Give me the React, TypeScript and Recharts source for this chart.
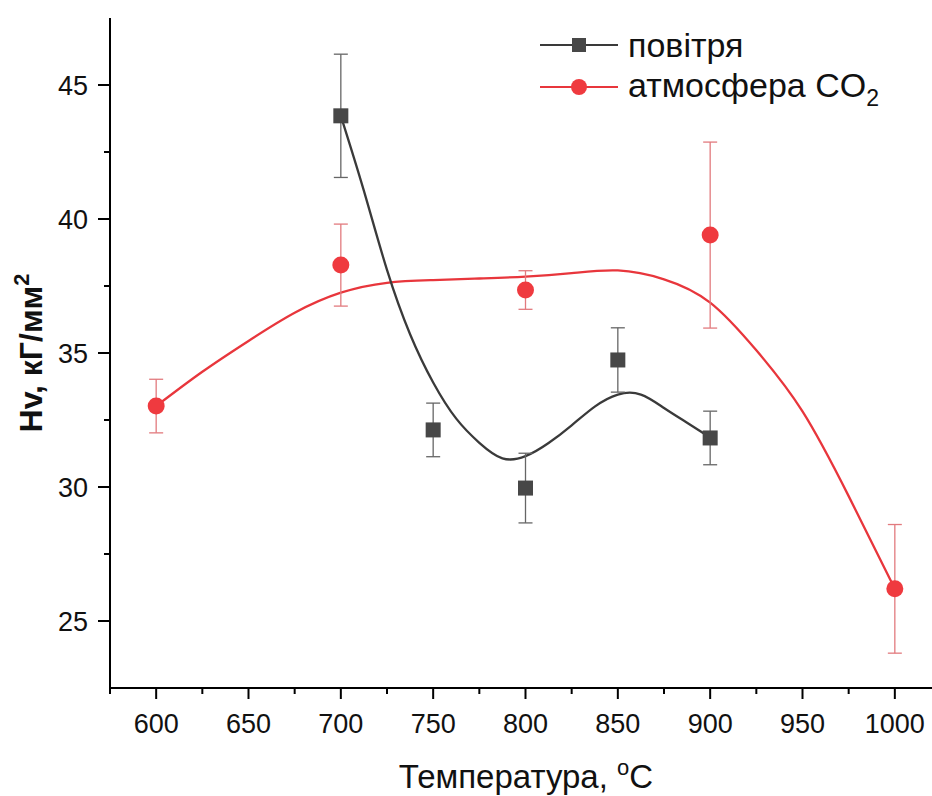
import React from 'react';
import { ComposedChart, Line, Scatter, XAxis, YAxis, ErrorBar, Legend } from 'recharts';

const FONT = '"Liberation Sans", Arial, Helvetica, sans-serif';

// measured points (temperature, Hv, error)
const airTemps = [700, 750, 800, 850, 900];
const airHv = [43.85, 32.13, 29.96, 34.74, 31.83];
const airErr = [2.3, 1.0, 1.3, 1.2, 1.0];

const co2Temps = [600, 700, 800, 900, 1000];
const co2Hv = [33.02, 38.28, 37.35, 39.4, 26.2];
const co2Err = [1.0, 1.53, 0.72, 3.47, 2.4];

// smoothed curves
const airCurveT = [700, 712.5, 725, 737.5, 750, 762.5, 775, 787.5, 800, 812.5, 825, 837.5, 850, 862.5, 875, 887.5, 900];
const airCurveV = [43.85, 41.05, 38.1, 35.7, 33.9, 32.55, 31.65, 31.07, 31.15, 31.64, 32.3, 33.0, 33.45, 33.45, 32.95, 32.4, 31.85];

const co2CurveT = [600, 625, 650, 675, 700, 725, 750, 775, 800, 825, 850, 875, 900, 925, 950, 975, 1000];
const co2CurveV = [33.02, 34.3, 35.45, 36.5, 37.25, 37.62, 37.72, 37.78, 37.85, 37.98, 38.08, 37.75, 36.88, 35.1, 32.82, 29.66, 26.2];

// ticks
const xTicks = [575, 600, 625, 650, 675, 700, 725, 750, 775, 800, 825, 850, 875, 900, 925, 950, 975, 1000, 1025];
const xMajor = [600, 650, 700, 750, 800, 850, 900, 950, 1000];
const yTicks = [25, 27.5, 30, 32.5, 35, 37.5, 40, 42.5, 45];
const yMajor = [25, 30, 35, 40, 45];

const seriesNames = ['повітря', 'атмосфера CO'];

const airPts = airTemps.map((t, i) => ({ x: t, y: airHv[i], err: airErr[i] }));
const co2Pts = co2Temps.map((t, i) => ({ x: t, y: co2Hv[i], err: co2Err[i] }));
const airCurve = airCurveT.map((t, i) => ({ x: t, y: airCurveV[i] }));
const co2Curve = co2CurveT.map((t, i) => ({ x: t, y: co2CurveV[i] }));

const BLACK = '#3a3a3a';
const BLACK_MK = '#474747';
const RED = '#e8363c';
const RED_MK = '#ef3a3f';

const XTick = (props: any) => {
  const { x, y, payload } = props;
  const v = payload.value;
  const major = xMajor.includes(v);
  return (
    <g>
      <line x1={x} x2={x} y1={y} y2={y + (major ? 11 : 6)} stroke="#000" strokeWidth={2} />
      {major && (
        <text x={x} y={y + 45} textAnchor="middle" fontSize={27} fontFamily={FONT} fill="#111">
          {v}
        </text>
      )}
    </g>
  );
};

const YTick = (props: any) => {
  const { x, y, payload } = props;
  const v = payload.value;
  const major = yMajor.includes(v);
  return (
    <g>
      <line x1={x} x2={x - (major ? 12 : 6)} y1={y} y2={y} stroke="#000" strokeWidth={2} />
      {major && (
        <text x={x - 22} y={y + 10} textAnchor="end" fontSize={27} fontFamily={FONT} fill="#111">
          {v}
        </text>
      )}
    </g>
  );
};

const Square = (props: any) => {
  const { cx, cy } = props;
  return <rect x={cx - 7.5} y={cy - 7.5} width={15} height={15} fill={BLACK_MK} />;
};
const Dot = (props: any) => {
  const { cx, cy } = props;
  return <circle cx={cx} cy={cy} r={8.5} fill={RED_MK} />;
};

const LegendBox = () => (
  <div style={{ fontFamily: FONT, fontSize: 34, color: '#111' }}>
    <div style={{ display: 'flex', alignItems: 'center', height: 42 }}>
      <svg width={78} height={42} style={{ marginRight: 10 }}>
        <line x1={0} x2={78} y1={21} y2={21} stroke={BLACK} strokeWidth={2} />
        <rect x={32} y={14} width={14} height={14} fill={BLACK_MK} />
      </svg>
      <span style={{ lineHeight: '42px' }}>{seriesNames[0]}</span>
    </div>
    <div style={{ display: 'flex', alignItems: 'center', height: 42 }}>
      <svg width={78} height={42} style={{ marginRight: 10 }}>
        <line x1={0} x2={78} y1={21} y2={21} stroke={RED} strokeWidth={2} />
        <circle cx={39} cy={21} r={8} fill={RED_MK} />
      </svg>
      <span style={{ lineHeight: '42px' }}>
        {seriesNames[1]}
        <span style={{ fontSize: 23, position: 'relative', top: 9 }}>2</span>
      </span>
    </div>
  </div>
);

const YLabel = () => (
  <text
    x={42}
    y={353}
    transform="rotate(-90, 42, 353)"
    textAnchor="middle"
    fontSize={32}
    fontWeight="bold"
    fontFamily={FONT}
    fill="#111"
  >
    Hv, кГ/мм
    <tspan fontSize={22} dy={-13}>2</tspan>
  </text>
);

const XLabel = () => (
  <text x={526} y={788} textAnchor="middle" fontSize={33} fontFamily={FONT} fill="#111">
    Температура,{' '}
    <tspan fontSize={22} dy={-13}>o</tspan>
    <tspan dy={13}>C</tspan>
  </text>
);

export default function App() {
  return (
    <div
      style={{
        position: 'absolute',
        left: 0,
        top: 0,
        width: 932,
        height: 796,
        overflow: 'hidden',
        background: '#fff',
      }}
    >
      <ComposedChart width={960} height={796} margin={{ top: 18, right: 19, bottom: 0, left: 0 }}>
        <XAxis
          dataKey="x"
          type="number"
          domain={[575, 1025]}
          ticks={xTicks}
          interval={0}
          allowDataOverflow
          height={108}
          tickSize={0}
          tickMargin={0}
          tickLine={false}
          tick={<XTick />}
          axisLine={{ stroke: '#000', strokeWidth: 2 }}
          label={<XLabel />}
        />
        <XAxis
          xAxisId="top"
          orientation="top"
          type="number"
          domain={[575, 1025]}
          allowDataOverflow
          height={0}
          tick={false}
          tickLine={false}
          axisLine={{ stroke: '#000', strokeWidth: 2 }}
        />
        <YAxis
          dataKey="y"
          type="number"
          domain={[22.5, 47.5]}
          ticks={yTicks}
          interval={0}
          allowDataOverflow
          width={110}
          tickSize={0}
          tickMargin={0}
          tickLine={false}
          tick={<YTick />}
          axisLine={{ stroke: '#000', strokeWidth: 2 }}
          label={<YLabel />}
        />
        <Legend
          layout="horizontal"
          verticalAlign="middle"
          align="center"
          wrapperStyle={{ position: 'absolute', top: 24, left: 540, width: 390, height: 84 }}
          content={() => <LegendBox />}
        />
        <Line
          data={co2Curve}
          dataKey="y"
          type="natural"
          stroke={RED}
          strokeWidth={2.3}
          dot={false}
          activeDot={false}
          isAnimationActive={false}
          legendType="none"
        />
        <Line
          data={airCurve}
          dataKey="y"
          type="natural"
          stroke={BLACK}
          strokeWidth={2.3}
          dot={false}
          activeDot={false}
          isAnimationActive={false}
          legendType="none"
        />
        <Scatter data={co2Pts} dataKey="y" shape={<Dot />} isAnimationActive={false} name={seriesNames[1]}>
          <ErrorBar dataKey="err" direction="y" width={7} stroke="#e27a7e" strokeWidth={1.3} isAnimationActive={false} />
        </Scatter>
        <Scatter data={airPts} dataKey="y" shape={<Square />} isAnimationActive={false} name={seriesNames[0]}>
          <ErrorBar dataKey="err" direction="y" width={7} stroke="#666" strokeWidth={1.3} isAnimationActive={false} />
        </Scatter>
      </ComposedChart>
    </div>
  );
}
